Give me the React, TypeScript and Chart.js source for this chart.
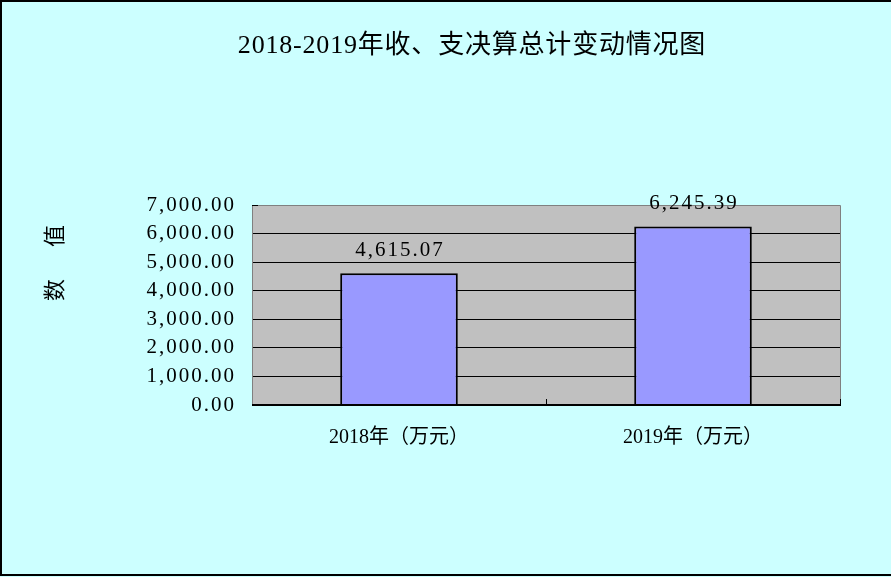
import React, { useEffect, useRef } from "react";
import { Chart, registerables } from "chart.js";

Chart.register(...registerables);

const categories: string[] = ["2018年（万元）", "2019年（万元）"];
const values: number[] = [4615.07, 6245.39];
const yTicks: number[] = [0, 1000, 2000, 3000, 4000, 5000, 6000, 7000];
const titleText = "2018-2019年收、支决算总计变动情况图";
const yAxisTitle: string[] = ["数", "值"];

const FONT = "'Liberation Serif', 'Noto Sans CJK SC', serif";

const fmt = (v: number) =>
  v.toLocaleString("en-US", { minimumFractionDigits: 2, maximumFractionDigits: 2 });

const decor = {
  id: "decor",
  beforeDraw(chart: any) {
    const { ctx, width, height, chartArea: a } = chart;
    ctx.save();
    ctx.fillStyle = "#CCFFFF";
    ctx.fillRect(0, 0, width, height);
    ctx.strokeStyle = "#000";
    ctx.lineWidth = 2;
    ctx.beginPath();
    ctx.moveTo(width + 2, 1);
    ctx.lineTo(1, 1);
    ctx.lineTo(1, height - 2);
    ctx.lineTo(width + 2, height - 2);
    ctx.stroke();
    ctx.fillStyle = "#C0C0C0";
    ctx.fillRect(a.left, a.top, a.right - a.left, a.bottom - a.top);
    ctx.restore();
    // wider spacing for y tick labels (drawn before datasets)
    ctx.letterSpacing = "2px";
  },
  beforeDatasetsDraw(chart: any) {
    chart.ctx.letterSpacing = "0px";
  },
  afterDatasetsDraw(chart: any) {
    const { ctx, chartArea: a } = chart;
    ctx.save();
    // plot frame
    ctx.strokeStyle = "#808080";
    ctx.lineWidth = 1;
    ctx.beginPath();
    ctx.moveTo(a.left + 0.5, a.bottom);
    ctx.lineTo(a.left + 0.5, a.top + 0.5);
    ctx.lineTo(a.right + 0.5, a.top + 0.5);
    ctx.lineTo(a.right + 0.5, a.bottom);
    ctx.stroke();
    // bottom axis
    ctx.strokeStyle = "#000";
    ctx.lineWidth = 2;
    ctx.beginPath();
    ctx.moveTo(a.left, a.bottom);
    ctx.lineTo(a.right + 1, a.bottom);
    ctx.stroke();
    // category boundary ticks
    ctx.lineWidth = 1;
    const n = categories.length;
    const w = (a.right - a.left) / n;
    ctx.beginPath();
    for (let i = 1; i <= n; i++) {
      const x = Math.round(a.left + w * i) + 0.5;
      ctx.moveTo(x, a.bottom);
      ctx.lineTo(x, a.bottom - 6);
    }
    ctx.moveTo(a.left, a.top + 0.5);
    ctx.lineTo(a.left + 6, a.top + 0.5);
    ctx.stroke();
    // data labels
    ctx.fillStyle = "#000";
    ctx.letterSpacing = "2px";
    ctx.font = `21px ${FONT}`;
    ctx.textAlign = "center";
    ctx.textBaseline = "middle";
    const meta = chart.getDatasetMeta(0);
    meta.data.forEach((bar: any, i: number) => {
      ctx.fillText(fmt(values[i]), bar.x + 1, bar.y - 23);
    });
    // title
    ctx.letterSpacing = "0.8px";
    ctx.font = `26px ${FONT}`;
    ctx.fillText(titleText, 472, 46);
    // y-axis title (rotated)
    ctx.letterSpacing = "0px";
    ctx.font = `22px ${FONT}`;
    const ys = [290, 236];
    yAxisTitle.forEach((ch, i) => {
      ctx.save();
      ctx.translate(56, ys[i]);
      ctx.rotate(-Math.PI / 2);
      ctx.fillText(ch, 0, 0);
      ctx.restore();
    });
    ctx.restore();
  },
};

export default function App() {
  const ref = useRef<HTMLCanvasElement>(null);
  useEffect(() => {
    document.body.style.margin = "0";
    const chart = new Chart(ref.current!, {
      type: "bar",
      data: {
        labels: categories,
        datasets: [
          {
            data: values,
            backgroundColor: "#9999FF",
            borderColor: "#000",
            borderWidth: 2,
            categoryPercentage: 1,
            barPercentage: 0.4,
          },
        ],
      },
      options: {
        responsive: false,
        animation: false,
        devicePixelRatio: 1,
        layout: { padding: { top: 205, right: 51, left: 0, bottom: 0 } },
        plugins: { legend: { display: false }, title: { display: false }, tooltip: { enabled: false } },
        scales: {
          x: {
            grid: { display: false, drawTicks: false },
            border: { display: false },
            ticks: { color: "#000", font: { family: FONT, size: 20 }, padding: 21, maxRotation: 0, z: 1 },
            afterFit: (s: any) => {
              s.height = 172;
            },
          },
          y: {
            min: 0,
            max: 7000,
            afterBuildTicks: (s: any) => {
              s.ticks = yTicks.map((v) => ({ value: v }));
            },
            grid: {
              drawTicks: false,
              color: (c: any) => (c.tick && c.tick.value === 7000 ? "#808080" : "#000"),
              lineWidth: 1,
            },
            border: { display: false },
            ticks: {
              color: "#000",
              font: { family: FONT, size: 21 },
              padding: 16,
              callback: (v: any) => fmt(Number(v)),
            },
            afterFit: (s: any) => {
              s.width = 252;
            },
          },
        },
      },
      plugins: [decor],
    });
    return () => chart.destroy();
  }, []);
  return (
    <div style={{ width: 891, height: 577 }}>
      <canvas ref={ref} width={891} height={577} />
    </div>
  );
}
